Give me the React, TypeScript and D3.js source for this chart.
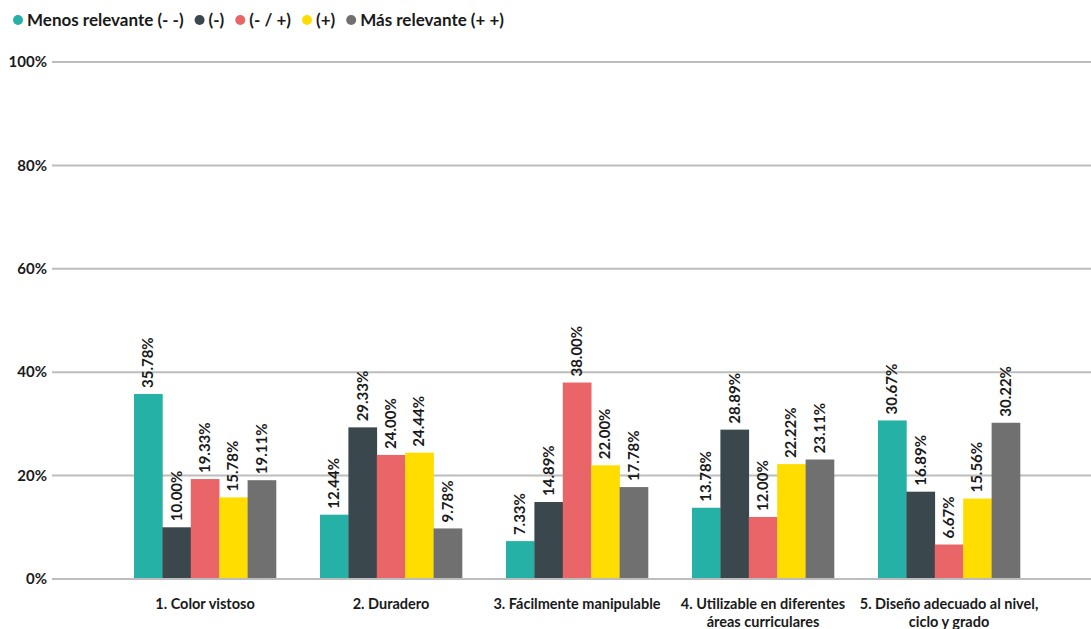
import React, { useEffect, useRef } from "react";
import * as d3 from "d3";

const categories = [
  ["1. Color vistoso"],
  ["2. Duradero"],
  ["3. Fácilmente manipulable"],
  ["4. Utilizable en diferentes", "áreas curriculares"],
  ["5. Diseño adecuado al nivel,", "ciclo y grado"],
];
const seriesNames = ["Menos relevante (- -)", "(-)", "(- / +)", "(+)", "Más relevante (+ +)"];
const seriesColors = ["#26b1a6", "#3a474c", "#e96567", "#ffdd00", "#707070"];
const menos = [35.78, 12.44, 7.33, 13.78, 30.67];
const menosUno = [10.0, 29.33, 14.89, 28.89, 16.89];
const neutro = [19.33, 24.0, 38.0, 12.0, 6.67];
const masUno = [15.78, 24.44, 22.0, 22.22, 15.56];
const mas = [19.11, 9.78, 17.78, 23.11, 30.22];
const seriesValues = [menos, menosUno, neutro, masUno, mas];
const yTicks = [0, 20, 40, 60, 80, 100];

const W = 1091;
const H = 629;
const FONT = "Lato, 'Open Sans', sans-serif";
const WEIGHT = 700;

export default function App() {
  const ref = useRef<SVGSVGElement>(null);
  useEffect(() => {
    const svg = d3.select(ref.current);
    svg.selectAll("*").remove();
    const y = d3.scaleLinear().domain([0, 100]).range([579, 62]);
    const x0 = d3.scaleBand<number>().domain(d3.range(categories.length)).range([112, 1042]).paddingInner(0).paddingOuter(0);
    const groupW = 142;
    const x1 = d3.scaleBand<number>().domain(d3.range(seriesNames.length)).range([0, groupW]).padding(0);

    const g = svg.append("g");
    g.selectAll("line.grid").data(yTicks).enter().append("line")
      .attr("x1", 52).attr("x2", W).attr("y1", (d) => y(d)).attr("y2", (d) => y(d))
      .attr("stroke", "#bdbdbd").attr("stroke-width", 2);
    g.selectAll("text.ytick").data(yTicks).enter().append("text")
      .attr("x", 47).attr("y", (d) => y(d)).attr("dy", "0.35em").attr("text-anchor", "end")
      .attr("font-family", FONT).attr("font-weight", WEIGHT).attr("font-size", 15).attr("fill", "#1a1a1a")
      .text((d) => `${d}%`);

    categories.forEach((cat, ci) => {
      const gx = x0(ci)! + (x0.bandwidth() - groupW) / 2;
      seriesValues.forEach((vals, si) => {
        const v = vals[ci];
        const bx = gx + x1(si)!;
        svg.append("rect").attr("x", bx).attr("y", y(v)).attr("width", x1.bandwidth() + 0.3)
          .attr("height", y(0) - y(v)).attr("fill", seriesColors[si]);
        const cx = bx + x1.bandwidth() / 2;
        svg.append("text").attr("transform", `translate(${cx + 5},${y(v) - 6}) rotate(-90)`)
          .attr("font-family", FONT).attr("font-weight", WEIGHT).attr("font-size", 15).attr("fill", "#1a1a1a")
          .text(`${v.toFixed(2)}%`);
      });
      const t = svg.append("text").attr("x", x0(ci)! + x0.bandwidth() / 2).attr("y", 609)
        .attr("text-anchor", "middle").attr("font-family", FONT).attr("font-weight", WEIGHT)
        .attr("font-size", 14.5).attr("fill", "#1a1a1a");
      cat.forEach((line, li) => {
        t.append("tspan").attr("x", x0(ci)! + x0.bandwidth() / 2).attr("dy", li === 0 ? 0 : 18).text(line);
      });
    });

    svg.append("line").attr("x1", 52).attr("x2", W).attr("y1", y(0)).attr("y2", y(0))
      .attr("stroke", "#bdbdbd").attr("stroke-width", 2);

    let lx = 18;
    seriesNames.forEach((name, i) => {
      svg.append("circle").attr("cx", lx).attr("cy", 20).attr("r", 5).attr("fill", seriesColors[i]);
      const t = svg.append("text").attr("x", lx + 9).attr("y", 20).attr("dy", "0.35em")
        .attr("font-family", FONT).attr("font-weight", WEIGHT).attr("font-size", 17).attr("fill", "#1a1a1a")
        .text(name);
      const w = (t.node() as SVGTextElement).getComputedTextLength();
      lx = lx + 9 + w + 16;
    });
  }, []);
  return (
    <svg ref={ref} width={W} height={H} style={{ position: "absolute", left: 0, top: 0, background: "#fff" }} />
  );
}
